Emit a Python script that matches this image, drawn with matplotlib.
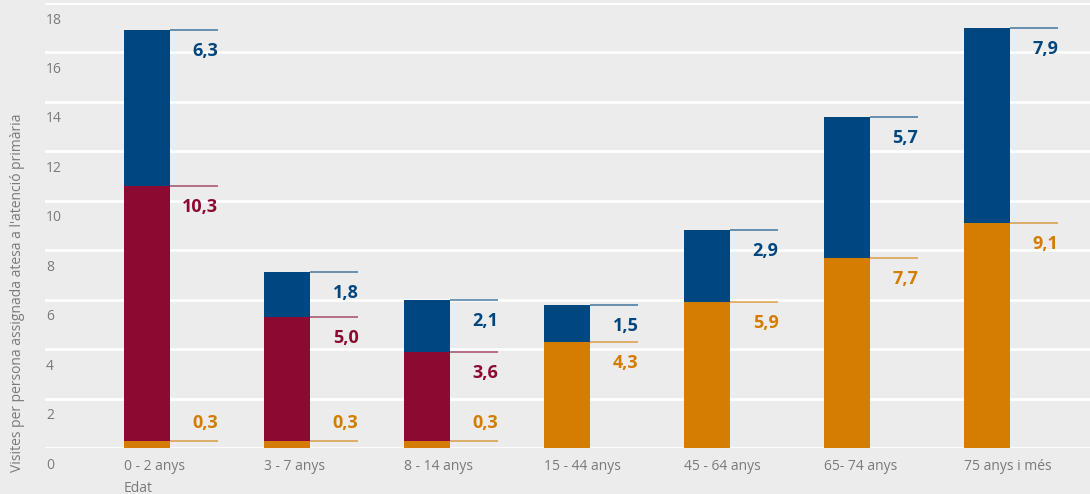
import matplotlib
matplotlib.use("Agg")
import matplotlib.pyplot as plt
import numpy as np

categories = ['0 - 2 anys', '3 - 7 anys', '8 - 14 anys', '15 - 44 anys',
              '45 - 64 anys', '65- 74 anys', '75 anys i més']
orange_vals = [0.3, 0.3, 0.3, 4.3, 5.9, 7.7, 9.1]
red_vals = [10.3, 5.0, 3.6, 0, 0, 0, 0]
blue_vals = [6.3, 1.8, 2.1, 1.5, 2.9, 5.7, 7.9]
y_ticks = [0, 2, 4, 6, 8, 10, 12, 14, 16, 18]

BG = '#ebeceb'
ORANGE = '#d47d00'
RED = '#8c0a32'
BLUE = '#00467f'
GREY = '#7a7a7a'

plt.rcParams['font.family'] = ['Open Sans', 'DejaVu Sans']

fig = plt.figure(figsize=(10.9, 4.94), dpi=100, facecolor=BG)
ax = fig.add_axes([45/1090, 1 - 448/494, 1 - 45/1090, (448 - 3)/494])
ax.set_facecolor(BG)

x = np.arange(len(categories))
w = 0.33
line_len = 0.345

bottom = np.zeros(len(categories))
series = [(orange_vals, ORANGE), (red_vals, RED), (blue_vals, BLUE)]
for vals, col in series:
    vals = np.array(vals, dtype=float)
    ax.bar(x, vals, w, bottom=bottom, color=col, zorder=3)
    top = bottom + vals
    for i in range(len(x)):
        if vals[i] == 0:
            continue
        x0 = x[i] + w/2
        x1 = x0 + line_len
        ax.plot([x0, x1], [top[i], top[i]], color=col, lw=1.3, alpha=0.6,
                zorder=3, solid_capstyle='butt')
        label = ('%.1f' % vals[i]).replace('.', ',')
        # small orange slices get the label above the line
        dy = 18 if (col == ORANGE and vals[i] < 1) else -21
        ax.annotate(label, xy=(x1, top[i]), xytext=(0, dy),
                    textcoords='offset pixels', ha='right', va='center',
                    fontsize=13, fontweight='bold', color=col, zorder=4)
    bottom = top

ax.set_xlim(-0.729, 6.736)
ax.set_ylim(0, 18)
ax.set_yticks(y_ticks)
ax.yaxis.grid(True, color='white', lw=2)
ax.set_axisbelow(True)
ax.tick_params(axis='y', length=0, labelleft=False)
for v in y_ticks:
    ax.annotate(str(v), xy=(0, v), xycoords=('axes fraction', 'data'),
                xytext=(1, -17), textcoords='offset pixels',
                ha='left', va='center', fontsize=10, color=GREY,
                annotation_clip=False)

ax.set_xticks(x - w/2)
ax.set_xticklabels(categories, ha='left', fontsize=10, color=GREY)
ax.tick_params(axis='x', length=0, pad=8)
for s in ax.spines.values():
    s.set_visible(False)

ax.annotate('Edat', xy=(x[0] - w/2, 0), xytext=(0, -40),
            textcoords='offset pixels', ha='left', va='center',
            fontsize=10, color=GREY, annotation_clip=False)

fig.text(18/1090, 1 - 472/494,
         "Visites per persona assignada atesa a l'atenció primària",
         rotation=90, ha='center', va='bottom', fontsize=10, color=GREY)

fig.savefig('out.png', dpi=100, facecolor=BG)
